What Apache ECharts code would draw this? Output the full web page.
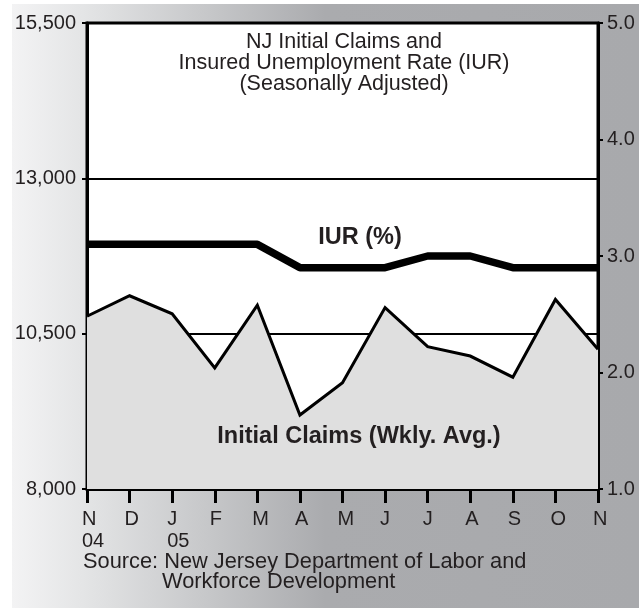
<!DOCTYPE html>
<html>
<head>
<meta charset="utf-8">
<script src="https://cdn.jsdelivr.net/npm/echarts@6/dist/echarts.min.js"></script>
<style>
  html, body { margin: 0; padding: 0; background: #fff; }
  #chart { width: 639px; height: 608px; }
</style>
</head>
<body>
<div id="chart"></div>
<script>
const months = ['2004-11', '2004-12', '2005-01', '2005-02', '2005-03', '2005-04', '2005-05',
    '2005-06', '2005-07', '2005-08', '2005-09', '2005-10', '2005-11'];
const monthLabels = ['N', 'D', 'J', 'F', 'M', 'A', 'M', 'J', 'J', 'A', 'S', 'O', 'N'];
const yearLabels = ['04', '', '05', '', '', '', '', '', '', '', '', '', ''];

// initial claims, weekly average (left axis)
const claims = [10780, 11110, 10820, 9950, 10960, 9190, 9710, 10920, 10290, 10140, 9800, 11050, 10250];
// insured unemployment rate, % (right axis)
const iur = [3.1, 3.1, 3.1, 3.1, 3.1, 2.9, 2.9, 2.9, 3.0, 3.0, 2.9, 2.9, 2.9];

const claimsAxis = { min: 8000, max: 15500, step: 2500 };
const iurAxis = { min: 1, max: 5, step: 1 };

const titleLines = ['NJ Initial Claims and', 'Insured Unemployment Rate (IUR)', '(Seasonally Adjusted)'];
const sourceLines = ['Source: New Jersey Department of Labor and', 'Workforce Development'];

const font = "'Liberation Sans', Arial, Helvetica, sans-serif";
const ink = '#231f20';

const chart = echarts.init(document.getElementById('chart'), null, { renderer: 'canvas' });

chart.setOption({
    animation: false,
    backgroundColor: '#fff',
    grid: {
        left: 87, right: 41, top: 23, bottom: 119,
        show: true, backgroundColor: '#fff', borderColor: '#000', borderWidth: 3,
    },
    graphic: [
        {
            type: 'rect', z: -10, silent: true,
            shape: { x: 12, y: 4, width: 627, height: 604 },
            style: {
                fill: new echarts.graphic.LinearGradient(0, 0, 1, 0, [
                    { offset: 0, color: '#f3f3f4' },
                    { offset: 0.12, color: '#e3e4e5' },
                    { offset: 0.5, color: '#aaabae' },
                    { offset: 1, color: '#a8a9ac' },
                ]),
            },
        },
        {
            type: 'text', z: 100, x: 344, y: 32,
            style: {
                text: titleLines.join('\n'), font: `21.5px ${font}`, lineHeight: 21,
                fill: ink, align: 'center', verticalAlign: 'top',
            },
        },
        {
            type: 'text', z: 100, x: 360, y: 238,
            style: {
                text: 'IUR (%)', font: `bold 23.5px ${font}`, fill: ink,
                align: 'center', verticalAlign: 'middle',
            },
        },
        {
            type: 'text', z: 100, x: 359, y: 437,
            style: {
                text: 'Initial Claims (Wkly. Avg.)', font: `bold 23.5px ${font}`, fill: ink,
                align: 'center', verticalAlign: 'middle',
            },
        },
        {
            type: 'text', z: 100, x: 83, y: 562,
            style: { text: sourceLines[0], font: `21.8px ${font}`, fill: ink, verticalAlign: 'middle' },
        },
        {
            type: 'text', z: 100, x: 162, y: 582,
            style: { text: sourceLines[1], font: `21.8px ${font}`, fill: ink, verticalAlign: 'middle' },
        },
    ],
    xAxis: {
        type: 'category',
        data: months,
        boundaryGap: false,
        axisLine: { lineStyle: { color: '#000', width: 3 } },
        axisTick: { inside: false, length: 14, lineStyle: { color: '#000', width: 3 } },
        axisLabel: {
            interval: 0, margin: 19, align: 'left', padding: [0, 0, 0, -5],
            color: ink, fontSize: 20, lineHeight: 22, fontFamily: font,
            formatter: (value, index) => monthLabels[index] + (yearLabels[index] ? '\n' + yearLabels[index] : ''),
        },
        splitLine: { show: false },
    },
    yAxis: [
        {
            type: 'value',
            position: 'left',
            min: claimsAxis.min, max: claimsAxis.max, interval: claimsAxis.step,
            axisLine: { show: true, lineStyle: { color: '#000', width: 3 } },
            axisTick: { show: true, length: 5, lineStyle: { color: '#000', width: 2 } },
            axisLabel: {
                margin: 11, color: ink, fontSize: 20, fontFamily: font,
                formatter: (v) => v.toLocaleString('en-US'),
            },
            splitLine: { show: true, lineStyle: { color: '#000', width: 2 } },
        },
        {
            type: 'value',
            position: 'right',
            min: iurAxis.min, max: iurAxis.max, interval: iurAxis.step,
            axisLine: { show: true, lineStyle: { color: '#000', width: 3 } },
            axisTick: { show: true, length: 5, lineStyle: { color: '#000', width: 2 } },
            axisLabel: {
                margin: 9, color: ink, fontSize: 20, fontFamily: font,
                formatter: (v) => v.toFixed(1),
            },
            splitLine: { show: false },
        },
    ],
    series: [
        {
            name: 'Initial Claims (Wkly. Avg.)',
            type: 'line',
            yAxisIndex: 0,
            data: claims,
            showSymbol: false,
            symbol: 'none',
            lineStyle: { color: '#000', width: 3, join: 'miter' },
            areaStyle: { color: '#dfdfdf', opacity: 1 },
            z: 2,
        },
        {
            name: 'IUR (%)',
            type: 'line',
            yAxisIndex: 1,
            data: iur,
            showSymbol: false,
            symbol: 'none',
            lineStyle: { color: '#000', width: 7.5 },
            z: 3,
        },
    ],
});
</script>
</body>
</html>
